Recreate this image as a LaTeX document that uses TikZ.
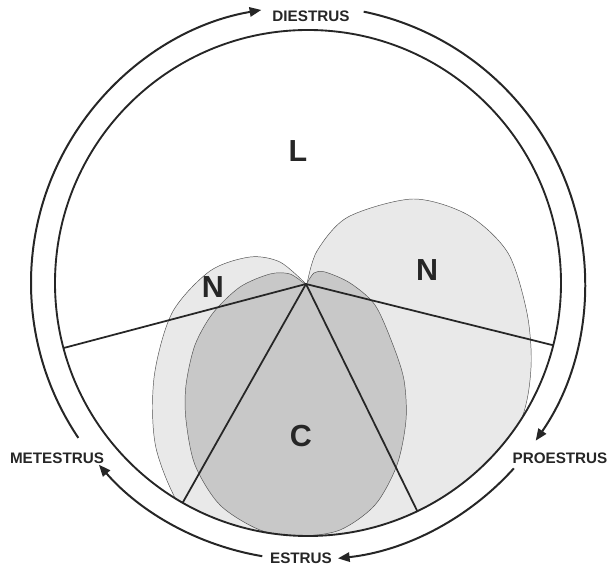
\documentclass[tikz,border=0pt]{standalone}
\usepackage{fontspec}
\setmainfont{Liberation Sans}
\usetikzlibrary{arrows.meta}
\definecolor{Cell_Light}{HTML}{E9E9E9}
\definecolor{Cell_Dark}{HTML}{C8C8C8}
\definecolor{Ink}{HTML}{262626}

\begin{document}
\begin{tikzpicture}[
  x=0.03cm, y=0.03cm,
  every node/.style={text=Ink},
  phase/.style={font=\fontsize{13}{15}\selectfont\bfseries},
  cell/.style={font=\fontsize{26}{30}\selectfont\bfseries},
  ring/.style={line width=1.6pt, Ink},
  cycarr/.style={-{Triangle[length=10pt, width=8pt]}, line width=1.7pt, Ink},
  sector/.style={line width=1.5pt, Ink},
  blob/.style={draw=Ink!80, line width=0.4pt}
]
  \useasboundingbox (-308,-283) rectangle (300,283);
  \coordinate (ctr) at (0,0);
  \coordinate (apex) at (-2,-1);

  % Cell populations (clipped to the smear)
  \begin{scope}
    \clip (ctr) circle[radius=253];
    \filldraw[blob, fill=Cell_Light] plot[smooth] coordinates {
      (-2,-1) (-28,21) (-58,26) (-98,12) (-136,-30) (-154,-95)
      (-152,-165) (-123,-232) (-68,-287) (-8,-287)} -- cycle;
    \filldraw[blob, fill=Cell_Light] plot[smooth] coordinates {
      (-1,-1) (9,32) (40,66) (105,84) (160,68) (200,30) (219,-30)
      (223,-85) (212,-140) (165,-225) (72,-292) (2,-292)} -- cycle;
    \filldraw[blob, fill=Cell_Dark] plot[smooth] coordinates {
      (-2,-2) (-18,9) (-38,9) (-68,-4) (-95,-30) (-113,-62) (-122,-102)
      (-122,-137) (-113,-182) (-88,-222) (-48,-247) (-8,-253) (32,-247)
      (67,-222) (89,-182) (98,-137) (96,-97) (85,-62) (67,-22) (42,0)
      (17,11) (6,10) (-2,-2)};
  \end{scope}

  % Smear outline
  \draw[ring] (ctr) circle[radius=253];

  % Sectors
  \coordinate (rimW) at (194.9:253);
  \coordinate (rimE) at (-14.25:253);
  \coordinate (rimSW) at (240.3:253);
  \coordinate (rimSE) at (-64.4:253);
  \draw[sector] (apex) -- (rimW);
  \draw[sector] (apex) -- (rimE);
  \draw[sector] (apex) -- (rimSW);
  \draw[sector] (apex) -- (rimSE);

  % Cycle arrows
  \draw[cycarr] (214:277) arc[start angle=214, end angle=99.7, radius=277];
  \draw[cycarr] (78.4:277) arc[start angle=78.4, end angle=-34.7, radius=277];
  \draw[cycarr] (-42:277) arc[start angle=-42, end angle=-83.8, radius=277];
  \draw[cycarr] (-99.5:277) arc[start angle=-99.5, end angle=-139, radius=277];

  % Phase labels
  \node[phase] (diestrus) at (3,267) {DIESTRUS};
  \node[phase] (proestrus) at (252,-175) {PROESTRUS};
  \node[phase] (estrus) at (-7,-275) {ESTRUS};
  \node[phase] (metestrus) at (-251,-175) {METESTRUS};

  % Cell labels
  \node[cell] (lymph) at (-10,132) {L};
  \node[cell] (nucL) at (-95,-4) {N};
  \node[cell] (nucR) at (119,13) {N};
  \node[cell] (corn) at (-7,-153) {C};
\end{tikzpicture}
\end{document}
